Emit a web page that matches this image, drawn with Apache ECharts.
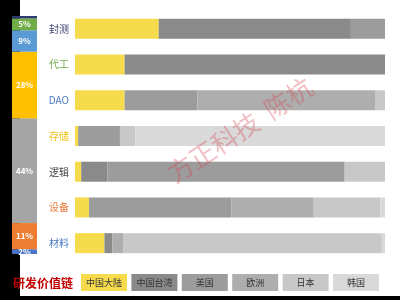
<!DOCTYPE html>
<html>
<head>
<meta charset="utf-8">
<script src="https://cdn.jsdelivr.net/npm/echarts@6/dist/echarts.min.js"></script>
<style>
html, body { margin: 0; padding: 0; background: #fff; }
#chart { width: 400px; height: 300px; }
</style>
</head>
<body>
<div id="chart"></div>
<script>
// 环节
var categories = ['封测', '代工', 'DAO', '存储', '逻辑', '设备', '材料'];
var categoryColors = ['#3b4170', '#6fa84a', '#4a78c0', '#f2c21a', '#404040', '#e8783a', '#4a78c0'];

// 各地区占比 (%)
var regionNames = ['中国大陆', '中国台湾', '美国', '欧洲', '日本', '韩国'];
var regionColors = ['#f6dc4c', '#8a8a8a', '#9c9c9c', '#aeaeae', '#c8c8c8', '#d9d9d9'];
var mainland = [27, 16, 16, 1, 2, 4.5, 9.5];
var taiwan = [62, 84, 0, 0, 8.5, 0, 2.5];
var usa = [11, 0, 23.5, 13.5, 76.5, 46, 0];
var europe = [0, 0, 57.5, 0, 0, 26.5, 3.5];
var japan = [0, 0, 3, 5, 13, 21.5, 83.5];
var korea = [0, 0, 0, 80.5, 0, 1.5, 1];

// 左侧价值链占比, 自下而上
var shareValues = [2, 11, 44, 28, 9, 5, 1];
var shareLabels = ['2%', '11%', '44%', '28%', '9%', '5%', ''];
var shareColors = ['#4a74c8', '#ed7d31', '#a5a5a5', '#ffc000', '#5b9bd5', '#70ad47', '#2c3a6e'];

var chart = echarts.init(document.getElementById('chart'));
var font = '"Noto Sans CJK SC", sans-serif';

var regionData = [mainland, taiwan, usa, europe, japan, korea];
var series = [];
for (var i = 0; i < regionNames.length; i++) {
    series.push({
        name: regionNames[i],
        type: 'bar',
        stack: 'region',
        xAxisIndex: 0,
        yAxisIndex: 0,
        barWidth: 20,
        itemStyle: { color: regionColors[i] },
        data: regionData[i]
    });
}
for (var j = 0; j < shareValues.length; j++) {
    series.push({
        name: 'share' + j,
        type: 'bar',
        stack: 'share',
        xAxisIndex: 1,
        yAxisIndex: 1,
        barWidth: '100%',
        itemStyle: { color: shareColors[j] },
        label: {
            show: shareLabels[j] !== '',
            position: 'inside',
            formatter: shareLabels[j],
            color: '#fff',
            fontSize: 8,
            fontWeight: 'bold',
            fontFamily: font
        },
        data: [shareValues[j]]
    });
}

var yData = [];
for (var k = 0; k < categories.length; k++) {
    yData.push({ value: categories[k], textStyle: { color: categoryColors[k] } });
}

// 图例方块
var legendItems = [];
for (var m = 0; m < regionNames.length; m++) {
    legendItems.push({
        type: 'rect',
        shape: { x: 81 + m * 50.4, y: 274, width: 46, height: 17 },
        style: { fill: regionColors[m] },
        z: 10
    });
    legendItems.push({
        type: 'text',
        x: 81 + m * 50.4 + 23,
        y: 282.5,
        style: {
            text: regionNames[m],
            fill: '#333',
            font: '9px ' + font,
            align: 'center',
            verticalAlign: 'middle'
        },
        z: 11
    });
}

var option = {
    animation: false,
    grid: [
        { left: 75, right: 15, top: 11, bottom: 39 },
        { left: 12, width: 25, top: 16, bottom: 46 }
    ],
    xAxis: [
        { type: 'value', gridIndex: 0, min: 0, max: 100, show: false },
        { type: 'category', gridIndex: 1, data: [''], show: false }
    ],
    yAxis: [
        {
            type: 'category',
            gridIndex: 0,
            inverse: true,
            data: yData,
            axisLine: { show: false },
            axisTick: { show: false },
            axisLabel: { fontSize: 10, margin: 6, fontFamily: font }
        },
        { type: 'value', gridIndex: 1, min: 0, max: 100, show: false }
    ],
    graphic: [
        { type: 'rect', shape: { x: 0, y: 0, width: 20, height: 300 }, style: { fill: '#000' }, z: -10 },
        { type: 'rect', shape: { x: 0, y: 296, width: 400, height: 4 }, style: { fill: '#000' }, z: -10 },
        {
            type: 'text',
            x: 13,
            y: 283,
            style: {
                text: '研发价值链',
                fill: '#c00000',
                font: 'bold 12px ' + font,
                verticalAlign: 'middle'
            },
            z: 10
        },
        {
            type: 'text',
            x: 240,
            y: 130,
            rotation: 0.58,
            style: {
                text: '方正科技  陈杭',
                fill: 'rgba(215, 70, 80, 0.35)',
                font: '26px ' + font,
                align: 'center',
                verticalAlign: 'middle'
            },
            z: 20
        }
    ].concat(legendItems),
    series: series
};

chart.setOption(option);
</script>
</body>
</html>
